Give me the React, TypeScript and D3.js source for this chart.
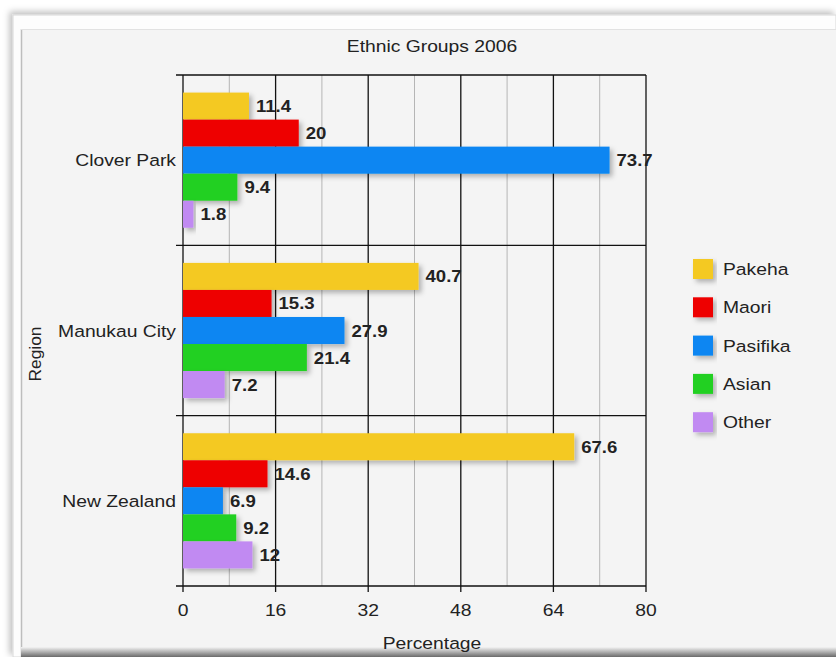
import React from "react";
import * as d3 from "d3";

const regions = ["Clover Park", "Manukau City", "New Zealand"];
const series = ["Pakeha", "Maori", "Pasifika", "Asian", "Other"];
const colors = ["#F4C922", "#EE0000", "#0A86F2", "#22D022", "#C18AF2"];
const cloverPark = [11.4, 20, 73.7, 9.4, 1.8];
const manukauCity = [40.7, 15.3, 27.9, 21.4, 7.2];
const newZealand = [67.6, 14.6, 6.9, 9.2, 12];
const xTicks = [0, 8, 16, 24, 32, 40, 48, 56, 64, 72, 80];
const xTickLabels = ["0", "16", "32", "48", "64", "80"];
const title = "Ethnic Groups 2006";
const xTitle = "Percentage";
const yTitle = "Region";

const values = [cloverPark, manukauCity, newZealand];

const W = 836;
const H = 657;
const left = 183;
const right = 646;
const top = 75;
const bottom = 586;
const SX = 1.17;
const FS = 16.5;
const FONT = "'Liberation Sans', Arial, sans-serif";
const INK = "#222";

function T({ x, y, anchor = "start", size = FS, weight = "normal", sx = SX, rotate = 0, children }: any) {
  const tr = rotate ? `translate(${x},${y}) rotate(${rotate}) scale(${sx},1)` : `translate(${x},${y}) scale(${sx},1)`;
  return (
    <text transform={tr} textAnchor={anchor} fontSize={size} fontWeight={weight} fontFamily={FONT} fill={INK}>
      {children}
    </text>
  );
}

export default function App() {
  const x = d3.scaleLinear().domain([0, 80]).range([left, right]);
  const y0 = d3.scaleBand<string>().domain(regions).range([top, bottom]).padding(0);
  const y1 = d3.scaleBand<string>().domain(series).range([0, y0.bandwidth()]).paddingInner(0).paddingOuter(0.65);
  const bounds = [top, ...regions.map((r) => (y0(r) as number) + y0.bandwidth())];
  const majors = new Set(xTickLabels.map(Number));

  return (
    <div style={{ position: "absolute", left: 0, top: 0 }}>
      <svg width={W} height={H} style={{ display: "block" }}>
        <defs>
          <filter id="sh" x="-10%" y="-30%" width="130%" height="180%">
            <feDropShadow dx="3" dy="3" stdDeviation="2.5" floodColor="#000" floodOpacity="0.28" />
          </filter>
          <filter id="frameSh" x="-5%" y="-5%" width="110%" height="110%">
            <feDropShadow dx="-3" dy="-3" stdDeviation="3" floodColor="#000" floodOpacity="0.25" />
          </filter>
          <linearGradient id="bot" x1="0" y1="0" x2="0" y2="1">
            <stop offset="0" stopColor="#f4f4f4" />
            <stop offset="1" stopColor="#6a6a6a" />
          </linearGradient>
        </defs>
        <rect x={0} y={0} width={W} height={H} fill="#fff" />
        <rect x={13} y={15} width={W - 13} height={H - 15} fill="#fdfdfd" stroke="#d8d8d8" filter="url(#frameSh)" />
        <rect x={21} y={29} width={W - 21} height={H - 29} fill="#f4f4f4" />
        <line x1={21.5} y1={29} x2={21.5} y2={H} stroke="#bdbdbd" strokeWidth={1.5} />
        <line x1={21} y1={29.5} x2={W} y2={29.5} stroke="#e2e2e2" strokeWidth={1} />
        <rect x={21} y={647} width={W - 21} height={10} fill="url(#bot)" />

        <T x={432} y={52} anchor="middle">{title}</T>

        {xTicks.map((t) => (
          <line
            key={"g" + t}
            x1={x(t)}
            x2={x(t)}
            y1={top}
            y2={majors.has(t) ? bottom + 6 : bottom}
            stroke={majors.has(t) ? "#111" : "#b5b5b5"}
            strokeWidth={majors.has(t) ? 1.3 : 1}
          />
        ))}
        {bounds.map((b, i) => (
          <line key={"h" + i} x1={left - 7} x2={right} y1={b} y2={b} stroke="#111" strokeWidth={1.3} />
        ))}

        {regions.map((r, ri) => (
          <g key={r} transform={`translate(0,${y0(r)})`}>
            {series.map((s, si) => {
              const v = values[ri][si];
              const by = y1(s) as number;
              return (
                <rect key={s} x={x(0)} y={by} width={x(v) - x(0)} height={y1.bandwidth()} fill={colors[si]} filter="url(#sh)" />
              );
            })}
            {series.map((s, si) => {
              const v = values[ri][si];
              const by = y1(s) as number;
              return (
                <T key={"l" + s} x={x(v) + 7} y={by + y1.bandwidth() / 2 + 6} size={16} weight="bold" sx={1.16}>
                  {String(v)}
                </T>
              );
            })}
            <T x={176} y={y0.bandwidth() / 2 + 6} anchor="end">{r}</T>
          </g>
        ))}

        {xTickLabels.map((t) => (
          <T key={"t" + t} x={x(Number(t))} y={616} anchor="middle">{t}</T>
        ))}
        <T x={432} y={649} anchor="middle">{xTitle}</T>
        <T x={41} y={354} anchor="middle" rotate={-90} sx={1.05}>{yTitle}</T>

        {series.map((s, i) => (
          <g key={"lg" + s} transform={`translate(693,${259 + i * 38.3})`}>
            <rect x={0} y={0} width={20} height={20} fill={colors[i]} filter="url(#sh)" />
            <T x={30} y={16}>{s}</T>
          </g>
        ))}
      </svg>
    </div>
  );
}
